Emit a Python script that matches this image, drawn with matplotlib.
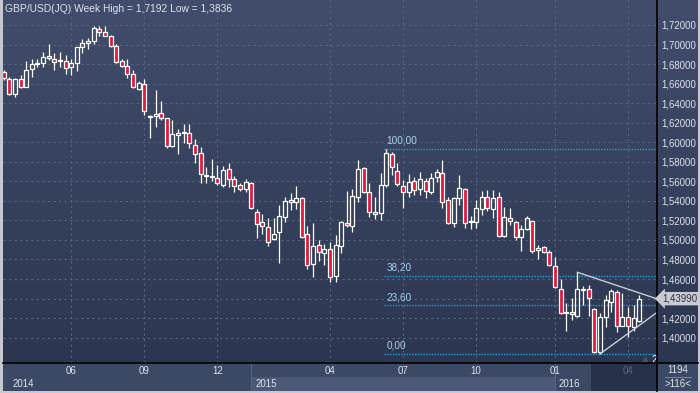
import numpy as np
import matplotlib
matplotlib.use("Agg")
import matplotlib.pyplot as plt
from matplotlib.patches import Rectangle
from matplotlib.lines import Line2D
from matplotlib.colors import LinearSegmentedColormap
import matplotlib.transforms as mtransforms

plt.rcParams['font.family'] = ['Liberation Sans', 'DejaVu Sans']

# GBP/USD weekly candles, oldest first
opens = [1.6722, 1.6644, 1.6494, 1.6644, 1.6569, 1.6747, 1.6804, 1.6808, 1.6883, 1.6849,
         1.6828, 1.6835, 1.6767, 1.6808, 1.6978, 1.7019, 1.7033, 1.7162, 1.7125, 1.7087,
         1.6985, 1.6828, 1.6777, 1.6698, 1.6542, 1.6593, 1.6258, 1.6272, 1.6296, 1.6245,
         1.5965, 1.6074, 1.6092, 1.6092, 1.5972, 1.5887, 1.5651, 1.5641, 1.5631, 1.5565,
         1.5723, 1.5621, 1.5559, 1.5518, 1.5580, 1.5283, 1.5184, 1.5133, 1.5007, 1.5084,
         1.5232, 1.5391, 1.5385, 1.5426, 1.5058, 1.4751, 1.4951, 1.4863, 1.4910, 1.4631,
         1.4941, 1.5170, 1.5146, 1.5437, 1.5733, 1.5488, 1.5286, 1.5273, 1.5562, 1.5877,
         1.5709, 1.5555, 1.5488, 1.5600, 1.5518, 1.5606, 1.5494, 1.5647, 1.5682, 1.5409,
         1.5177, 1.5432, 1.5518, 1.5180, 1.5180, 1.5314, 1.5437, 1.5314, 1.5443, 1.5044,
         1.5222, 1.5181, 1.5027, 1.5109, 1.5194, 1.4897, 1.4925, 1.4874, 1.4733, 1.4495,
         1.4260, 1.4260, 1.4225, 1.4488, 1.4495, 1.4290, 1.3856, 1.4214, 1.4368, 1.4464,
         1.4122, 1.4208, 1.4112, 1.4170]
highs = [1.6739, 1.6671, 1.6658, 1.6688, 1.6832, 1.6849, 1.6849, 1.6921, 1.7006, 1.6910,
         1.6924, 1.6893, 1.6855, 1.6978, 1.7054, 1.7064, 1.7190, 1.7190, 1.7192, 1.7101,
         1.7006, 1.6849, 1.6849, 1.6739, 1.6627, 1.6644, 1.6279, 1.6535, 1.6422, 1.6248,
         1.6228, 1.6132, 1.6187, 1.6187, 1.6030, 1.5948, 1.5744, 1.5829, 1.5767, 1.5757,
         1.5791, 1.5658, 1.5580, 1.5621, 1.5596, 1.5317, 1.5266, 1.5222, 1.5222, 1.5358,
         1.5443, 1.5477, 1.5552, 1.5440, 1.5143, 1.5170, 1.5000, 1.4959, 1.4982, 1.5051,
         1.5197, 1.5501, 1.5518, 1.5818, 1.5750, 1.5580, 1.5443, 1.5682, 1.5930, 1.5903,
         1.5785, 1.5614, 1.5672, 1.5641, 1.5692, 1.5631, 1.5682, 1.5723, 1.5818, 1.5437,
         1.5437, 1.5665, 1.5529, 1.5245, 1.5409, 1.5504, 1.5511, 1.5511, 1.5494, 1.5340,
         1.5324, 1.5194, 1.5153, 1.5245, 1.5197, 1.4948, 1.4938, 1.4897, 1.4822, 1.4597,
         1.4358, 1.4409, 1.4669, 1.4529, 1.4539, 1.4300, 1.4249, 1.4437, 1.4495, 1.4488,
         1.4454, 1.4317, 1.4334, 1.4437]
lows = [1.6637, 1.6484, 1.6466, 1.6552, 1.6562, 1.6665, 1.6767, 1.6773, 1.6842, 1.6739,
        1.6773, 1.6698, 1.6688, 1.6732, 1.6917, 1.6951, 1.7006, 1.7087, 1.7087, 1.6978,
        1.6808, 1.6767, 1.6655, 1.6552, 1.6535, 1.6279, 1.6047, 1.6159, 1.6228, 1.5944,
        1.5948, 1.5877, 1.5995, 1.5938, 1.5791, 1.5586, 1.5586, 1.5606, 1.5562, 1.5539,
        1.5539, 1.5488, 1.5504, 1.5494, 1.5317, 1.5023, 1.5061, 1.4938, 1.5000, 1.4761,
        1.5187, 1.5307, 1.5314, 1.5020, 1.4700, 1.4624, 1.4788, 1.4740, 1.4573, 1.4573,
        1.4863, 1.5129, 1.5084, 1.5391, 1.5477, 1.5238, 1.5219, 1.5204, 1.5540, 1.5665,
        1.5552, 1.5324, 1.5443, 1.5460, 1.5460, 1.5426, 1.5467, 1.5596, 1.5330, 1.5163,
        1.5129, 1.5358, 1.5119, 1.5109, 1.5119, 1.5255, 1.5299, 1.5222, 1.5027, 1.5030,
        1.5153, 1.4999, 1.4890, 1.5102, 1.4863, 1.4802, 1.4863, 1.4733, 1.4505, 1.4242,
        1.4071, 1.4181, 1.4214, 1.4334, 1.4225, 1.3846, 1.3836, 1.4112, 1.4266, 1.4061,
        1.4118, 1.4010, 1.4068, 1.4157]
closes = [1.6655, 1.6494, 1.6644, 1.6569, 1.6739, 1.6801, 1.6814, 1.6869, 1.6859, 1.6821,
          1.6839, 1.6757, 1.6808, 1.6972, 1.7013, 1.7033, 1.7169, 1.7125, 1.7090, 1.6985,
          1.6818, 1.6777, 1.6695, 1.6569, 1.6609, 1.6323, 1.6269, 1.6289, 1.6245, 1.5965,
          1.6084, 1.6098, 1.6105, 1.5989, 1.5877, 1.5672, 1.5662, 1.5655, 1.5580, 1.5716,
          1.5621, 1.5555, 1.5518, 1.5590, 1.5330, 1.5160, 1.5146, 1.4982, 1.5058, 1.5245,
          1.5396, 1.5409, 1.5426, 1.5027, 1.4740, 1.4941, 1.4874, 1.4910, 1.4624, 1.4948,
          1.5187, 1.5150, 1.5453, 1.5723, 1.5488, 1.5289, 1.5266, 1.5562, 1.5887, 1.5744,
          1.5570, 1.5488, 1.5590, 1.5511, 1.5621, 1.5501, 1.5637, 1.5692, 1.5385, 1.5170,
          1.5426, 1.5535, 1.5170, 1.5197, 1.5324, 1.5437, 1.5324, 1.5426, 1.5040, 1.5230,
          1.5191, 1.5033, 1.5109, 1.5222, 1.4890, 1.4915, 1.4874, 1.4744, 1.4515, 1.4249,
          1.4249, 1.4239, 1.4495, 1.4495, 1.4403, 1.3856, 1.4214, 1.4385, 1.4478, 1.4122,
          1.4214, 1.4122, 1.4198, 1.4399]

month_labels = ["06", "09", "12", "04", "07", "10", "01", "04"]
month_pos = [13, 26, 39, 59, 72, 85, 99, 112]
year_labels = ["2014", "2015", "2016"]
year_pos = [1.9, 45, 99]
price_ticks = [1.40, 1.42, 1.44, 1.46, 1.48, 1.50, 1.52, 1.54, 1.56, 1.58,
               1.60, 1.62, 1.64, 1.66, 1.68, 1.70, 1.72]

fib_high = 1.5930
fib_low = 1.3836
fib_ratios = [1.0, 0.382, 0.236, 0.0]
fib_names = ["100,00", "38,20", "23,60", "0,00"]
fib_start = 69

# triangle drawn on the chart: (x, price) end points
tri_upper_x = [103, 117.2]
tri_upper_y = [1.4669, 1.4396]
tri_lower_x = [107, 117.2]
tri_lower_y = [1.3833, 1.4260]

last_price = 1.4399

W, H = 700, 393
BG_TOP = '#414d6b'
BG_BOT = '#2c3650'
RED = '#e3173c'
GRID = '#58647e'
TXT = '#dfe3ec'


def box(x0, y0, x1, y1):
    return [x0 / W, 1 - y1 / H, (x1 - x0) / W, (y1 - y0) / H]


fig = plt.figure(figsize=(7, 3.93), dpi=100)
fig.patch.set_facecolor('#c4c8d0')

# gradient background behind plot and price scale
bg = fig.add_axes(box(3, 0, 698, 363))
cmap = LinearSegmentedColormap.from_list('bg', [BG_TOP, BG_BOT])
bg.imshow(np.linspace(0, 1, 256).reshape(-1, 1), aspect='auto', cmap=cmap,
          extent=[0, 1, 0, 1])
bg.axis('off')

ax = fig.add_axes(box(3, 0, 657, 363))
ax.patch.set_alpha(0)
n = len(opens)
xs = np.arange(1, n + 1)
x_lo, x_hi = 0.88, 117.15
ax.set_xlim(x_lo, x_hi)
ax.set_ylim(1.72 - 338 / 977, 1.72 + 25 / 977)
for s in ax.spines.values():
    s.set_visible(False)

ax.set_xticks(month_pos)
ax.set_yticks(price_ticks)
ax.grid(True, color=GRID, lw=0.8, ls=(0, (2, 3)))
ax.set_axisbelow(True)
ax.tick_params(axis='x', length=0, labelbottom=False)
ax.yaxis.tick_right()
ax.tick_params(axis='y', length=0, pad=3, labelsize=6.9, labelcolor=TXT)
ax.set_yticklabels([f"{p:.5f}".replace('.', ',') for p in price_ticks])

# candles
bw = 0.72
for x, o, h, l, c in zip(xs, opens, highs, lows, closes):
    top, bot = max(o, c), min(o, c)
    ax.vlines(x, top, h, color='white', lw=0.9, zorder=3)
    ax.vlines(x, l, bot, color='white', lw=0.9, zorder=3)
    fc = RED if c < o else 'none'
    ax.add_patch(Rectangle((x - bw / 2, bot), bw, max(top - bot, 0.0002),
                           facecolor=fc, edgecolor='white', lw=0.9, zorder=4))

# fibonacci levels
for r, name in zip(fib_ratios, fib_names):
    lvl = fib_low + r * (fib_high - fib_low)
    ax.hlines(lvl, fib_start - 0.4, x_hi, colors='#1fa3dc', lw=1.0,
              linestyles=(0, (1, 1)), zorder=2)
    ax.text(fib_start + 0.1, lvl + 0.0032, name, color='#a8d2ef', fontsize=7.2,
            va='bottom', ha='left', zorder=5)

# triangle
ax.plot(tri_upper_x, tri_upper_y, color='#c9ccd4', lw=1.0, zorder=5, clip_on=False)
ax.plot(tri_lower_x, tri_lower_y, color='#c9ccd4', lw=1.0, zorder=5, clip_on=False)

ax.plot([115], [1.3770], marker='^', ms=5, color='#4a5270', zorder=5)
ax.text(116.1, 1.3770, "2", color='white', fontsize=7, va='center', ha='left')

# title
fig.text(5 / W, 1 - 9 / H, "GBP/USD(JQ) Week High = 1,7192 Low = 1,3836",
         color=TXT, fontsize=7.4, va='center', ha='left')

# current price tag
tr = mtransforms.blended_transform_factory(fig.transFigure, ax.transData)
fig.text(662 / W, last_price, f"{last_price:.5f}".replace('.', ','),
         transform=tr, fontsize=6.9, color='#2a2f3c', va='center', ha='left',
         bbox=dict(boxstyle='larrow,pad=0.18', fc='#c9ccd4', ec='none'))

# bottom date strip
bx = fig.add_axes(box(3, 363, 657, 391))
bx.set_xlim(x_lo, x_hi)
bx.set_ylim(28, 0)
bx.set_facecolor('#3c4965')
bx.axis('off')
bx.add_patch(Rectangle((x_lo, 0), x_hi - x_lo, 28, fc='#3c4965', ec='none', zorder=0))
bx.add_patch(Rectangle((45, 14), 99 - 45, 14, fc='#4b5876', ec='none', zorder=1))
bx.add_patch(Rectangle((105.4, 0), x_hi - 105.4, 28, fc='#27314a', ec='none', zorder=1))
for xp in [45, 99]:
    bx.vlines(xp, 0, 28, color='#56627c', lw=0.8, zorder=2)
for lab, xp in zip(month_labels, month_pos):
    col = '#5c6884' if xp > 105.4 else TXT
    bx.text(xp, 7.5, lab, color=col, fontsize=7.0, ha='center', va='center', zorder=3)
for lab, xp in zip(year_labels, year_pos):
    bx.text(xp + 0.7, 21, lab, color=TXT, fontsize=7.0, ha='left', va='center', zorder=3)

# bottom-right box
fig.patches.append(Rectangle((657 / W, 1 - 391 / H), 41 / W, 28 / H,
                             transform=fig.transFigure, fc='#3c4965', ec='none', zorder=0))
fig.text(678 / W, 1 - 370 / H, "1194", color=TXT, fontsize=7.0, ha='center', va='center')
fig.text(678 / W, 1 - 384 / H, ">116<", color=TXT, fontsize=7.0, ha='center', va='center')
fig.lines.append(Line2D([665 / W, 691 / W], [1 - 377 / H, 1 - 377 / H],
                        transform=fig.transFigure, color='#8a93a8', lw=0.6))

# frame separators
fig.lines.append(Line2D([3 / W, 698 / W], [1 - 363 / H, 1 - 363 / H],
                        transform=fig.transFigure, color='black', lw=1.2))
fig.lines.append(Line2D([657 / W, 657 / W], [1 - 391 / H, 1.0],
                        transform=fig.transFigure, color='black', lw=1.2))

fig.savefig("out.png", dpi=100, facecolor=fig.get_facecolor())
